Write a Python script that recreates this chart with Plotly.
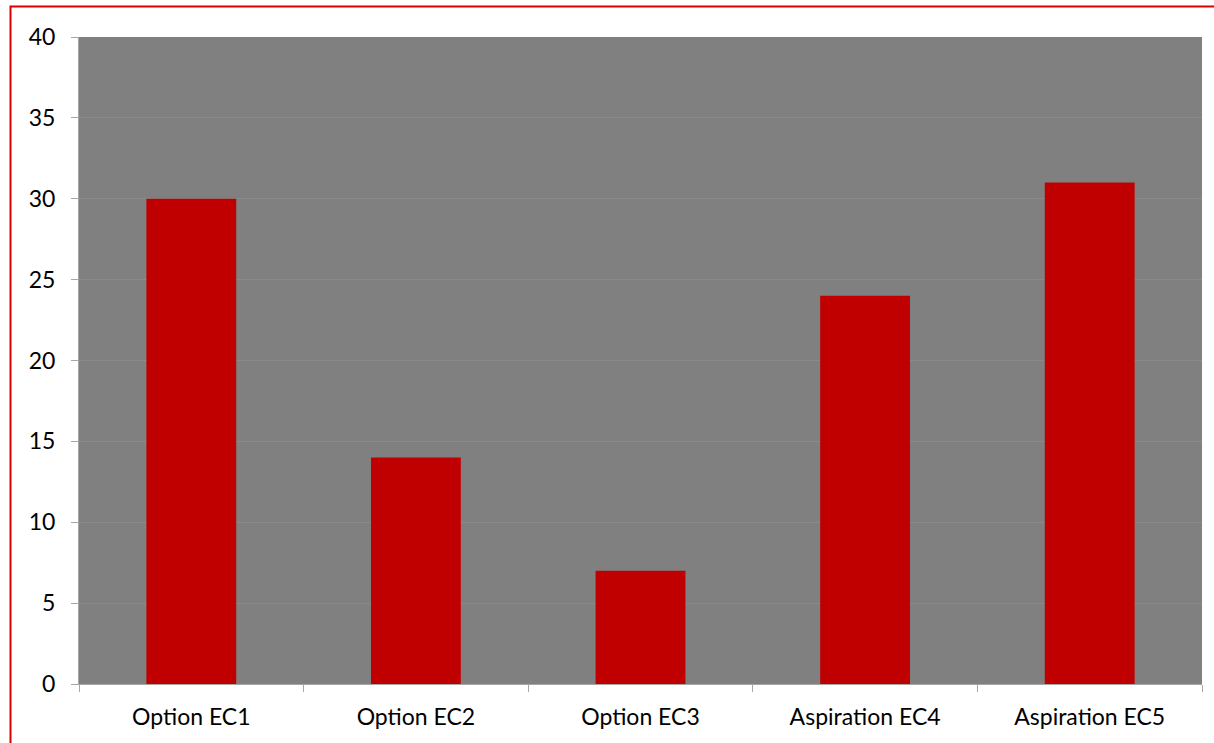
import plotly.graph_objects as go

categories = ["Option EC1", "Option EC2", "Option EC3", "Aspiration EC4", "Aspiration EC5"]
values = [30, 14, 7, 24, 31]
y_ticks = [0, 5, 10, 15, 20, 25, 30, 35, 40]

W, H = 1214, 743
L, R, T, B = 79, 12, 37, 59
pw, ph = W - L - R, H - T - B

fig = go.Figure(go.Bar(x=categories, y=values, marker=dict(color="#C00000", line=dict(width=0))))

fig.update_layout(
    width=W, height=H,
    margin=dict(l=L, r=R, t=T, b=B, autoexpand=False),
    paper_bgcolor="white",
    plot_bgcolor="#808080",
    bargap=0.6,
    showlegend=False,
    font=dict(family="Lato, Open Sans, sans-serif", size=23, color="black"),
    xaxis=dict(
        showgrid=False, showline=True, linecolor="#A6A6A6", linewidth=1,
        ticks="outside", ticklen=7, tickcolor="#A6A6A6", tickson="boundaries",
        tickfont=dict(size=23), ticklabelstandoff=12,
    ),
    yaxis=dict(
        range=[0, 40], tickvals=y_ticks, showgrid=True, gridcolor="#8A8A8A", gridwidth=1,
        showline=True, linecolor="#A6A6A6", linewidth=1,
        ticks="outside", ticklen=7, tickcolor="#A6A6A6", zeroline=False,
        tickfont=dict(size=23), ticklabelstandoff=11,
    ),
    shapes=[dict(
        type="rect", xref="paper", yref="paper",
        x0=(10.5 - L) / pw, x1=(1240 - L) / pw,
        y0=(H - B - 760) / ph, y1=(H - B - 6.5) / ph,
        line=dict(color="#D80000", width=2), fillcolor="rgba(0,0,0,0)", layer="below",
    )],
)

fig.write_html(
    "out.html",
    config={"displayModeBar": False},
    post_script="document.body.style.margin='0';document.body.style.overflow='hidden';",
)
